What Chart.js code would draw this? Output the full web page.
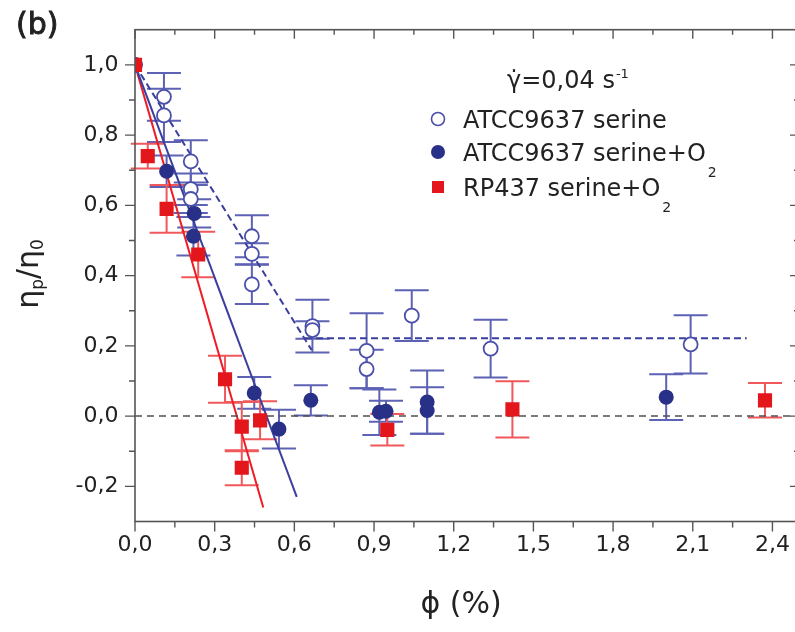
<!DOCTYPE html>
<html><head><meta charset="utf-8">
<script src="https://cdn.jsdelivr.net/npm/chart.js@4.4.0/dist/chart.umd.min.js"></script>
<style>
html,body{margin:0;padding:0;background:#fff;overflow:hidden;width:795px;height:632px}
#wrap{width:795px;height:632px;overflow:hidden;position:relative}
canvas{display:block}
</style></head>
<body><div id="wrap"><canvas id="c" width="810" height="632" style="width:810px;height:632px"></canvas></div>
<script>
// ---- tick labels ----
const xTickValues = [0, 0.3, 0.6, 0.9, 1.2, 1.5, 1.8, 2.1, 2.4];
const yTickValues = [-0.2, 0, 0.2, 0.4, 0.6, 0.8, 1.0];

// ---- ATCC9637 serine (open circles) ----
const serineX   = [0, 0.109, 0.109, 0.21, 0.21, 0.21, 0.44, 0.44, 0.44, 0.668, 0.668, 0.872, 0.872, 1.042, 1.339, 2.092];
const serineY   = [1.0, 0.909, 0.856, 0.725, 0.646, 0.618, 0.512, 0.462, 0.375, 0.256, 0.245, 0.186, 0.134, 0.286, 0.192, 0.204];
const serineErr = [0, 0.068, 0.076, 0.06, 0.045, 0.04, 0.06, 0.03, 0.056, 0.075, 0.025, 0.107, 0.055, 0.072, 0.082, 0.083];

// ---- ATCC9637 serine+O2 (filled circles) ----
const serO2X   = [0, 0.119, 0.223, 0.22, 0.449, 0.542, 0.662, 0.92, 0.945, 1.10, 1.10, 2.0];
const serO2Y   = [1.0, 0.697, 0.577, 0.512, 0.066, -0.037, 0.045, 0.011, 0.014, 0.040, 0.016, 0.054];
const serO2Err = [0, 0.045, 0.04, 0.055, 0.045, 0.055, 0.043, 0.065, 0.03, 0.09, 0.066, 0.065];

// ---- RP437 serine+O2 (red squares) ----
const rpX   = [0, 0.048, 0.119, 0.238, 0.339, 0.402, 0.471, 0.402, 0.95, 1.421, 2.372];
const rpY   = [1.0, 0.74, 0.59, 0.46, 0.105, -0.03, -0.012, -0.147, -0.039, 0.019, 0.045];
const rpErr = [0, 0.035, 0.068, 0.065, 0.067, 0.07, 0.054, 0.05, 0.045, 0.08, 0.049];

// ---- guide / fit lines ----
const fitSerineX = [0, 0.665],  fitSerineY = [1.0, 0.188];
const plateauX   = [0.64, 2.303], plateauY = [0.222, 0.222];
const fitSerO2X  = [0, 0.609],  fitSerO2Y  = [1.0, -0.23];
const fitRpX     = [0, 0.483],  fitRpY     = [1.0, -0.26];
const zeroX      = [0, 2.5],    zeroY      = [0, 0];

const pts = (xs, ys) => xs.map((x, i) => ({x, y: ys[i]}));
const FONT = '"DejaVu Sans", "Liberation Sans", sans-serif';
const BLUE_DARK = '#283088', BLUE_OPEN = '#4a50aa', BLUE_ERR = '#5d62b4';
const RED = '#e3161c', RED_ERR = '#f0585b';
const AXIS = '#555555', TEXT = '#222222';

const lineDs = (xs, ys, color, dash, w) => ({
  type: 'line', data: pts(xs, ys), borderColor: color, borderWidth: w || 2,
  borderDash: dash || [], pointRadius: 0, fill: false, tension: 0, order: 5
});

const errorBars = {
  id: 'errorBars',
  beforeDatasetsDraw(chart) {
    const ctx = chart.ctx, xs = chart.scales.x, ys = chart.scales.y;
    chart.data.datasets.forEach(ds => {
      if (!ds.errors) return;
      ctx.save();
      ctx.strokeStyle = ds.errColor; ctx.lineWidth = 2;
      ds.data.forEach((p, i) => {
        const e = ds.errors[i]; if (!e) return;
        const px = xs.getPixelForValue(p.x);
        const t = ys.getPixelForValue(p.y + e), b = ys.getPixelForValue(p.y - e);
        ctx.beginPath();
        ctx.moveTo(px, t); ctx.lineTo(px, b);
        ctx.moveTo(px - 17, t); ctx.lineTo(px + 17, t);
        ctx.moveTo(px - 17, b); ctx.lineTo(px + 17, b);
        ctx.stroke();
      });
      ctx.restore();
    });
  }
};

const frame = {
  id: 'frame',
  afterDatasetsDraw(chart) {
    const ctx = chart.ctx, a = chart.chartArea, xs = chart.scales.x, ys = chart.scales.y;
    ctx.save();
    ctx.strokeStyle = AXIS; ctx.lineWidth = 1.6;
    ctx.strokeRect(a.left, a.top, a.right - a.left, a.bottom - a.top);
    ctx.lineWidth = 1.4;
    const xMaj = xTickValues, xMin = xTickValues.map(v => v + 0.15);
    const yMaj = yTickValues, yMin = yTickValues.map(v => v + 0.1);
    ctx.beginPath();
    xMaj.forEach(v => { const p = xs.getPixelForValue(v);
      ctx.moveTo(p, a.bottom); ctx.lineTo(p, a.bottom + 10);
      ctx.moveTo(p, a.top); ctx.lineTo(p, a.top + 9); });
    xMin.forEach(v => { if (v > 2.5) return; const p = xs.getPixelForValue(v);
      ctx.moveTo(p, a.bottom); ctx.lineTo(p, a.bottom + 6);
      ctx.moveTo(p, a.top); ctx.lineTo(p, a.top + 5); });
    yMaj.forEach(v => { const p = ys.getPixelForValue(v);
      ctx.moveTo(a.left, p); ctx.lineTo(a.left - 10, p);
      ctx.moveTo(a.right, p); ctx.lineTo(a.right - 9, p); });
    yMin.forEach(v => { if (v <= -0.3 || v >= 1.1) return; const p = ys.getPixelForValue(v);
      ctx.moveTo(a.left, p); ctx.lineTo(a.left - 6, p);
      ctx.moveTo(a.right, p); ctx.lineTo(a.right - 5, p); });
    ctx.stroke();
    ctx.restore();
  },
  afterDraw(chart) {
    const ctx = chart.ctx;
    ctx.save();
    ctx.fillStyle = TEXT;
    ctx.textBaseline = 'alphabetic';
    // panel label
    ctx.font = '30px ' + FONT; ctx.textAlign = 'left';
    ctx.strokeStyle = TEXT; ctx.lineWidth = 0.9;
    ctx.fillText('(b)', 16, 34);
    ctx.strokeText('(b)', 16, 34);
    // x label
    ctx.font = '30px ' + FONT; ctx.textAlign = 'center'; ctx.textBaseline = 'middle';
    ctx.fillText('ϕ (%)', 461, 605);
    // y label (rotated)
    ctx.save();
    ctx.translate(38, 274); ctx.rotate(-Math.PI / 2);
    ctx.textBaseline = 'alphabetic'; ctx.textAlign = 'left';
    const big = '30px ' + FONT, small = '17px ' + FONT;
    const parts = [['η', big, 0], ['p', small, 5], ['/', big, 0], ['η', big, 0], ['0', small, 5]];
    let total = 0;
    parts.forEach(p => { ctx.font = p[1]; total += ctx.measureText(p[0]).width; });
    let cx = -total / 2;
    parts.forEach(p => { ctx.font = p[1]; ctx.fillText(p[0], cx, p[2]); cx += ctx.measureText(p[0]).width; });
    ctx.restore();
    // legend
    ctx.textAlign = 'left'; ctx.textBaseline = 'alphabetic';
    ctx.font = '24px ' + FONT;
    ctx.fillText('γ̇=0,04 s', 507, 88);
    let w = ctx.measureText('γ̇=0,04 s').width;
    ctx.font = '13px ' + FONT;
    ctx.fillText('-1', 507 + w + 1, 78);
    const rows = [
      {y: 119, base: 128, text: 'ATCC9637 serine', sub: null, mk: 'open'},
      {y: 152, base: 161, text: 'ATCC9637 serine+O', sub: '2', mk: 'fill'},
      {y: 187, base: 196, text: 'RP437 serine+O', sub: '2', mk: 'sq'}
    ];
    rows.forEach(r => {
      ctx.font = '24px ' + FONT; ctx.fillStyle = TEXT;
      ctx.fillText(r.text, 463, r.base);
      if (r.sub) {
        const tw = ctx.measureText(r.text).width;
        ctx.font = '14px ' + FONT;
        ctx.fillText(r.sub, 463 + tw + 2, r.base + 16);
      }
      ctx.beginPath();
      if (r.mk === 'open') {
        ctx.arc(438, r.y, 6.5, 0, Math.PI * 2);
        ctx.fillStyle = '#fff'; ctx.fill();
        ctx.strokeStyle = BLUE_OPEN; ctx.lineWidth = 1.6; ctx.stroke();
      } else if (r.mk === 'fill') {
        ctx.arc(438, r.y, 7, 0, Math.PI * 2);
        ctx.fillStyle = BLUE_DARK; ctx.fill();
      } else {
        ctx.fillStyle = RED; ctx.fillRect(432, r.y - 6, 12, 12);
      }
    });
    ctx.restore();
  }
};

const fmt = v => (Math.round(v * 10) / 10).toFixed(1).replace('.', ',');

new Chart(document.getElementById('c'), {
  type: 'scatter',
  data: {
    datasets: [
      lineDs(zeroX, zeroY, '#505050', [7, 5], 1.5),
      lineDs(fitSerineX, fitSerineY, '#3a3f9e', [7, 4], 2),
      lineDs(plateauX, plateauY, '#3a3f9e', [7, 4], 2),
      lineDs(fitSerO2X, fitSerO2Y, '#3a3f9e', [], 2),
      lineDs(fitRpX, fitRpY, '#ee1c25', [], 2),
      { label: 'ATCC9637 serine', data: pts(serineX, serineY), errors: serineErr, errColor: BLUE_ERR,
        pointStyle: 'circle', pointRadius: 7, backgroundColor: '#ffffff', borderColor: BLUE_OPEN, borderWidth: 1.8, order: 3 },
      { label: 'ATCC9637 serine+O2', data: pts(serO2X, serO2Y), errors: serO2Err, errColor: BLUE_ERR,
        pointStyle: 'circle', pointRadius: 7.5, backgroundColor: BLUE_DARK, borderColor: BLUE_DARK, borderWidth: 0, order: 2 },
      { label: 'RP437 serine+O2', data: pts(rpX, rpY), errors: rpErr, errColor: RED_ERR,
        pointStyle: 'rect', pointRadius: 10, backgroundColor: RED, borderColor: RED, borderWidth: 0, order: 1 }
    ]
  },
  options: {
    responsive: false, animation: false, devicePixelRatio: 1,
    layout: { padding: { top: 24.5, right: 11, left: 0, bottom: 0 } },
    plugins: { legend: { display: false }, tooltip: { enabled: false }, title: { display: false } },
    scales: {
      x: {
        type: 'linear', min: 0, max: 2.5,
        afterBuildTicks: s => { s.ticks = xTickValues.map(v => ({value: v})); },
        afterFit: s => { s.height = 110.5; },
        ticks: { callback: v => fmt(v), font: { family: FONT, size: 22 }, color: TEXT, padding: 11, maxRotation: 0, autoSkip: false },
        grid: { display: false, drawTicks: false }, border: { display: false }
      },
      y: {
        type: 'linear', min: -0.3, max: 1.1,
        afterBuildTicks: s => { s.ticks = yTickValues.map(v => ({value: v})); },
        afterFit: s => { s.width = 135; },
        ticks: { callback: v => fmt(v), font: { family: FONT, size: 22 }, color: TEXT, padding: 16.5, autoSkip: false },
        grid: { display: false, drawTicks: false }, border: { display: false }
      }
    }
  },
  plugins: [errorBars, frame]
});
</script>
</body></html>
